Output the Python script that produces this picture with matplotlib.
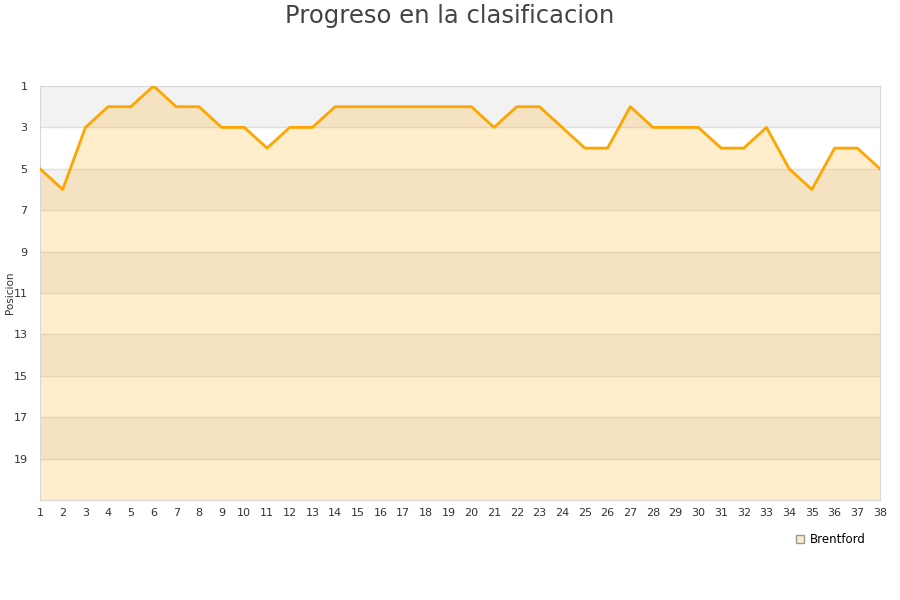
import numpy as np
import matplotlib.pyplot as plt
from matplotlib.lines import Line2D

# Jornadas and league position of Brentford
jornadas = list(range(1, 39))
posiciones = [5, 6, 3, 2, 2, 1, 2, 2, 3, 3, 4, 3, 3, 2, 2, 2, 2, 2, 2, 2,
              3, 2, 2, 3, 4, 4, 2, 3, 3, 3, 4, 4, 3, 5, 6, 4, 4, 5]
y_ticks = list(range(1, 20, 2))
equipo = "Brentford"

fig = plt.figure(figsize=(9, 6), dpi=100)
ax = fig.add_axes([40 / 900, 1 - 500 / 600, 840 / 900, 414 / 600])

# alternating background bands
for i, y0 in enumerate(range(1, 21, 2)):
    color = "#f2f2f2" if i % 2 == 0 else "white"
    ax.axhspan(y0, y0 + 2, color=color, zorder=0, lw=0)
    if y0 > 1:
        ax.axhline(y0, color="#e0e0e0", lw=1, zorder=1)

ax.fill_between(jornadas, posiciones, 21, color="orange", alpha=0.2, lw=0, zorder=2)
ax.plot(jornadas, posiciones, color="#ffa500", lw=2.0, zorder=3)

ax.set_xlim(1, 38)
ax.set_ylim(21, 1)
ax.set_xticks(jornadas)
ax.set_yticks(y_ticks)
ax.tick_params(length=0, labelsize=8, colors="#333333")
ax.tick_params(axis="x", pad=6)
ax.tick_params(axis="y", pad=9)
for s in ax.spines.values():
    s.set_color("#d8d8d8")

fig.text(10 / 900, 1 - 293 / 600, "Posicion", rotation=90, fontsize=7.5,
         color="#333333", ha="center", va="center")
fig.suptitle("Progreso en la clasificacion", fontsize=17.5, color="#444444", y=0.993)

handle = Line2D([], [], marker="s", linestyle="none", markersize=6,
                markerfacecolor="#feedca", markeredgecolor="#999999")
ax.legend([handle], [equipo], loc="upper right", bbox_to_anchor=(0.996, -0.055),
          frameon=False, fontsize=8.5, handletextpad=0.3, handlelength=1.2)

fig.savefig("out.png", dpi=100)
